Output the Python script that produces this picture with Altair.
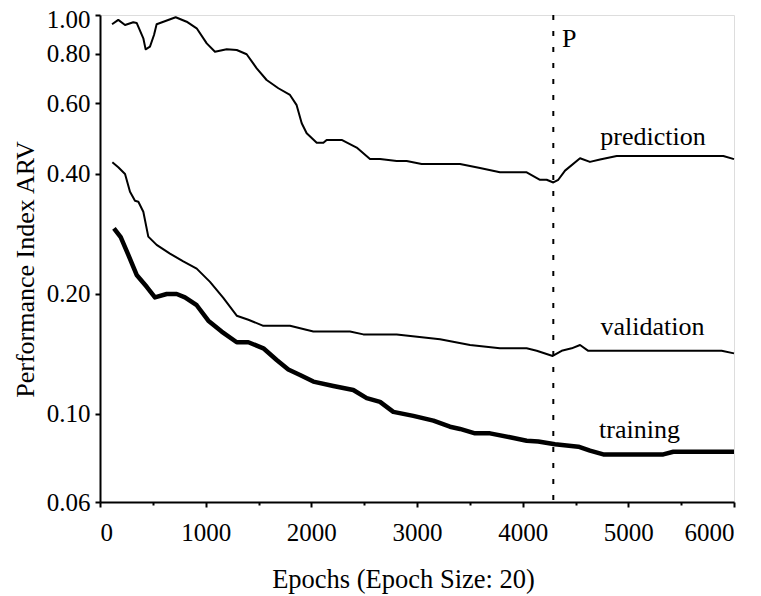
import altair as alt
import pandas as pd

# ---- data ----
pred_x = [114, 173, 237, 315, 347, 410, 432, 473, 511, 536, 716, 820, 915, 1010, 1088, 1199, 1294, 1388,
          1483, 1577, 1688, 1798, 1861, 1909, 1956, 2051, 2114, 2145, 2287, 2429, 2555, 2650, 2808, 2902,
          3044, 3407, 3596, 3785, 4038, 4164, 4227, 4290, 4337, 4401, 4543, 4637, 4732, 4890, 5899, 6000]
pred_y = [0.948, 0.972, 0.944, 0.959, 0.955, 0.874, 0.820, 0.833, 0.891, 0.948, 0.987, 0.962, 0.926, 0.849,
          0.809, 0.820, 0.817, 0.797, 0.735, 0.687, 0.655, 0.630, 0.594, 0.535, 0.505, 0.478, 0.478, 0.486,
          0.486, 0.465, 0.435, 0.435, 0.430, 0.430, 0.423, 0.423, 0.413, 0.403, 0.403, 0.386, 0.386, 0.380,
          0.386, 0.407, 0.437, 0.428, 0.434, 0.443, 0.443, 0.435]

val_x = [117, 173, 237, 284, 331, 363, 410, 457, 536, 662, 788, 915, 1041, 1167, 1294, 1404, 1546, 1798,
         2019, 2366, 2492, 2808, 3218, 3502, 3785, 4038, 4133, 4284, 4369, 4464, 4543, 4621, 5883, 6000]
val_y = [0.427, 0.415, 0.399, 0.360, 0.342, 0.340, 0.321, 0.278, 0.265, 0.252, 0.241, 0.231, 0.214, 0.195,
         0.176, 0.172, 0.166, 0.166, 0.1606, 0.1606, 0.158, 0.158, 0.1536, 0.1486, 0.1458, 0.1458, 0.1437,
         0.1395, 0.1437, 0.1458, 0.1486, 0.1437, 0.1437, 0.1416]

train_x = [132, 196, 268, 347, 442, 520, 631, 726, 804, 915, 1025, 1151, 1294, 1404, 1546, 1672, 1782, 1893,
           2019, 2208, 2397, 2524, 2650, 2776, 2965, 3155, 3312, 3407, 3549, 3691, 3880, 4038, 4148, 4306,
           4527, 4637, 4763, 5331, 5426, 6000]
train_y = [0.2916, 0.277, 0.250, 0.2227, 0.208, 0.1957, 0.1995, 0.1995, 0.1957, 0.187, 0.171, 0.1606, 0.151,
           0.151, 0.1458, 0.1363, 0.129, 0.125, 0.1203, 0.1173, 0.1146, 0.1093, 0.107, 0.101, 0.0987, 0.096,
           0.0927, 0.0915, 0.0892, 0.0892, 0.0872, 0.0855, 0.0851, 0.0838, 0.0826, 0.0807, 0.079, 0.079,
           0.0802, 0.0802]

p_epoch = [4290]
label_text = ["P", "prediction", "validation", "training"]
label_x = [4372, 5233, 5229, 5106]
label_y = [0.831, 0.472, 0.1575, 0.0869]
label_align = ["left", "center", "center", "center"]

y_ticks = [0.06, 0.10, 0.20, 0.40, 0.60, 0.80, 1.00]
x_ticks = [0, 500, 1000, 1500, 2000, 2500, 3000, 3500, 4000, 4500, 5000, 5500, 6000]

FONT = "Liberation Serif"

df = pd.concat([
    pd.DataFrame({"series": "prediction", "x": pred_x, "y": pred_y}),
    pd.DataFrame({"series": "validation", "x": val_x, "y": val_y}),
    pd.DataFrame({"series": "training", "x": train_x, "y": train_y}),
], ignore_index=True)
df["order"] = df.index

xscale = alt.Scale(domain=[0, 6000], nice=False, zero=False)
yscale = alt.Scale(type="log", domain=[0.06, 1.0], nice=False)

x_axis = alt.Axis(values=x_ticks, format="d", title="Epochs (Epoch Size: 20)", grid=False,
                  labelExpr="datum.value % 1000 === 0 ? datum.label : ''",
                  tickSize={"condition": {"test": "datum.value % 1000 === 0", "value": 5}, "value": 3},
                  tickWidth=2, tickColor="black", domainColor="black", domainWidth=2,
                  labelFont=FONT, labelFontSize=25, labelColor="black", labelPadding=13,
                  titleFont=FONT, titleFontSize=26.5, titleFontWeight="normal", titleColor="black",
                  titleX=303, titleY=85, titleBaseline="alphabetic", titleAlign="center",
                  labelOverlap=False)
y_axis = alt.Axis(values=y_ticks, format=".2f", title="Performance Index ARV", grid=False,
                  tickSize=5, tickWidth=2, tickColor="black", domainColor="black", domainWidth=2,
                  labelFont=FONT, labelFontSize=25, labelColor="black", labelPadding=5,
                  labelOffset={"condition": {"test": "datum.value >= 0.99", "value": 4}, "value": 0},
                  titleFont=FONT, titleFontSize=26, titleFontWeight="normal", titleColor="black",
                  titleX=-67, titleY=254, titleBaseline="alphabetic", titleAlign="center", titleAngle=-90,
                  labelOverlap=False)

base = alt.Chart(df)

thin = base.transform_filter(alt.datum.series != "training").mark_line(
    color="black", strokeWidth=2, strokeJoin="round").encode(
    x=alt.X("x:Q", scale=xscale, axis=x_axis),
    y=alt.Y("y:Q", scale=yscale, axis=y_axis),
    detail="series:N",
    order="order:Q",
)

thick = base.transform_filter(alt.datum.series == "training").mark_line(
    color="black", strokeWidth=4.5, strokeJoin="round").encode(
    x=alt.X("x:Q", scale=xscale),
    y=alt.Y("y:Q", scale=yscale),
    order="order:Q",
)

rule = alt.Chart(pd.DataFrame({"x": p_epoch})).mark_rule(
    color="black", strokeWidth=2, strokeDash=[5, 11]).encode(
    x=alt.X("x:Q", scale=xscale),
)

labels_df = pd.DataFrame({"text": label_text, "x": label_x, "y": label_y, "align": label_align})
lab_left = alt.Chart(labels_df).transform_filter(alt.datum.align == "left").mark_text(
    font=FONT, fontSize=26, color="black", align="left", baseline="alphabetic").encode(
    x=alt.X("x:Q", scale=xscale), y=alt.Y("y:Q", scale=yscale), text="text:N")
lab_center = alt.Chart(labels_df).transform_filter(alt.datum.align == "center").mark_text(
    font=FONT, fontSize=26, color="black", align="center", baseline="alphabetic").encode(
    x=alt.X("x:Q", scale=xscale), y=alt.Y("y:Q", scale=yscale), text="text:N")

chart = alt.layer(thin, thick, rule, lab_left, lab_center).properties(
    width=634, height=487,
    autosize=alt.AutoSizeParams(type="none"),
    padding={"left": 92, "top": 7, "right": 19, "bottom": 92},
).configure_view(stroke="black", strokeWidth=2).configure(background="white", font=FONT)

chart.save("out.html", embed_options={"renderer": "svg", "actions": False})
